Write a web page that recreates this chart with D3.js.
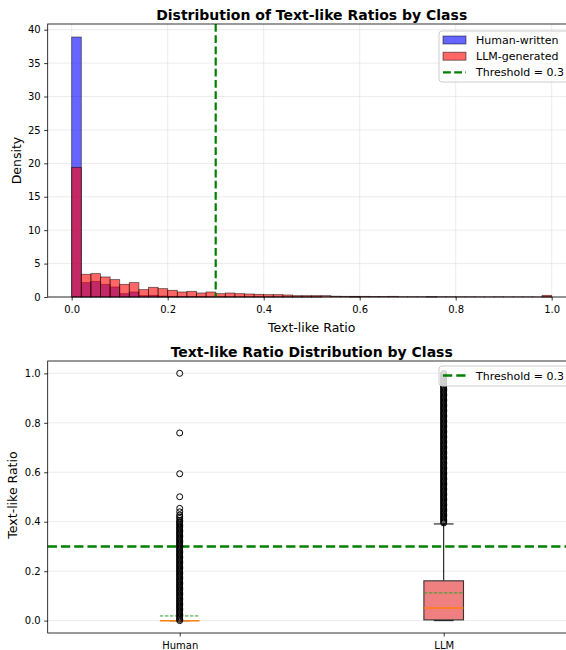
<!DOCTYPE html>
<meta charset="utf-8" />
<style>
  body {
    margin: 0;
    background: #fff;
  }
  svg {
    display: block;
    font-family: "DejaVu Sans", sans-serif;
  }
</style>
<body>
  <div id="graficoContainer"></div>
  <script src="https://cdn.jsdelivr.net/npm/d3@7"></script>
  <script>
    // ---- dados ----
    var larguraBin = 0.02;
    var densidadeHumano = [
      38.9, 2.15, 2.35, 1.9, 1.5, 0.5, 0.75, 0.2, 0.25, 0.15,
      0.1, 0.08, 0.08, 0.06, 0.05, 0.05, 0.04, 0.03, 0.03, 0.03,
      0.02, 0.02, 0.02, 0.01, 0.01, 0.01, 0, 0, 0, 0.01,
      0, 0, 0, 0, 0, 0, 0, 0.01, 0, 0,
      0, 0, 0, 0, 0, 0, 0, 0, 0, 0.01,
    ];
    var densidadeLLM = [
      19.4, 3.4, 3.5, 3.0, 2.6, 1.9, 2.15, 1.1, 1.45, 1.25,
      1.0, 0.75, 0.85, 0.6, 0.75, 0.5, 0.6, 0.5, 0.45, 0.4,
      0.35, 0.35, 0.3, 0.2, 0.2, 0.2, 0.2, 0.12, 0.1, 0.1,
      0.1, 0.08, 0.08, 0.1, 0.05, 0.05, 0.05, 0.05, 0.05, 0.05,
      0.04, 0.04, 0.03, 0.03, 0.04, 0.03, 0.03, 0.03, 0.02, 0.25,
    ];
    var limiar = 0.3;
    var ticksXHist = [0, 0.2, 0.4, 0.6, 0.8, 1.0];
    var ticksYHist = [0, 5, 10, 15, 20, 25, 30, 35, 40];

    var classes = ["Human", "LLM"];
    var boxQ1 = [0, 0.003];
    var boxMediana = [0, 0.051];
    var boxQ3 = [0, 0.161];
    var boxMedia = [0.019, 0.112];
    var bigodeInf = [0, 0];
    var bigodeSup = [0, 0.391];
    var ticksYBox = [0, 0.2, 0.4, 0.6, 0.8, 1.0];

    var outliersHumano = [
      0, 0.005, 0.01, 0.015, 0.02, 0.025, 0.03, 0.035, 0.04, 0.045,
      0.05, 0.055, 0.06, 0.065, 0.07, 0.075, 0.08, 0.085, 0.09, 0.095,
      0.1, 0.105, 0.11, 0.115, 0.12, 0.125, 0.13, 0.135, 0.14, 0.145,
      0.15, 0.155, 0.16, 0.165, 0.17, 0.175, 0.18, 0.185, 0.19, 0.195,
      0.2, 0.205, 0.21, 0.215, 0.22, 0.225, 0.23, 0.235, 0.24, 0.245,
      0.25, 0.255, 0.26, 0.265, 0.27, 0.275, 0.28, 0.285, 0.29, 0.295,
      0.3, 0.305, 0.31, 0.315, 0.32, 0.325, 0.33, 0.335, 0.34, 0.345,
      0.35, 0.355, 0.36, 0.365, 0.37, 0.375, 0.38, 0.385, 0.39, 0.395,
      0.4, 0.405, 0.413, 0.42, 0.427, 0.44, 0.454, 0.501, 0.594, 0.759, 1.0,
    ];
    var outliersLLM = [
      0.395,
      0.4, 0.405, 0.41, 0.415, 0.42, 0.425, 0.43, 0.435, 0.44, 0.445,
      0.45, 0.455, 0.46, 0.465, 0.47, 0.475, 0.48, 0.485, 0.49, 0.495,
      0.5, 0.505, 0.51, 0.515, 0.52, 0.525, 0.53, 0.535, 0.54, 0.545,
      0.55, 0.555, 0.56, 0.565, 0.57, 0.575, 0.58, 0.585, 0.59, 0.595,
      0.6, 0.605, 0.61, 0.615, 0.62, 0.625, 0.63, 0.635, 0.64, 0.645,
      0.65, 0.655, 0.66, 0.665, 0.67, 0.675, 0.68, 0.685, 0.69, 0.695,
      0.7, 0.705, 0.71, 0.715, 0.72, 0.725, 0.73, 0.735, 0.74, 0.745,
      0.75, 0.755, 0.76, 0.765, 0.77, 0.775, 0.78, 0.785, 0.79, 0.795,
      0.8, 0.805, 0.81, 0.815, 0.82, 0.825, 0.83, 0.835, 0.84, 0.845,
      0.85, 0.855, 0.86, 0.865, 0.87, 0.875, 0.88, 0.885, 0.89, 0.895,
      0.9, 0.905, 0.91, 0.915, 0.92, 0.925, 0.93, 0.935, 0.94, 0.945,
      0.95, 0.955, 0.96, 0.965, 0.97, 0.975, 0.98, 0.985, 0.99, 0.995,
      1.0,
    ];
    var outliers = [outliersHumano, outliersLLM];

    // ---- estilos ----
    var corCaixa = ["lightblue", "lightcoral"];
    var corVerde = "green";
    var corGrade = "#b0b0b0";

    var largura = 566;
    var altura = 650;

    var svg = d3
      .select("#graficoContainer")
      .append("svg")
      .attr("width", largura)
      .attr("height", altura);

    function estiloEixo(g) {
      g.select(".domain").remove();
      g.selectAll(".tick line").attr("stroke", "#000").attr("stroke-width", 0.8);
      g.selectAll(".tick text")
        .attr("fill", "#000")
        .attr("font-size", "10px")
        .attr("font-family", "DejaVu Sans");
    }

    // ================= histograma =================
    var esq = 47.7,
      dir = 575.7;
    var xHist = d3.scaleLinear().domain([-0.05, 1.05]).range([esq, dir]);
    var yHist = d3.scaleLinear().domain([0, 40.85]).range([297, 24]);

    var gHist = svg.append("g");

    // grade
    gHist
      .selectAll(".gradeX")
      .data(ticksXHist)
      .enter()
      .append("line")
      .attr("x1", (d) => xHist(d))
      .attr("x2", (d) => xHist(d))
      .attr("y1", yHist.range()[1])
      .attr("y2", yHist.range()[0])
      .attr("stroke", corGrade)
      .attr("stroke-opacity", 0.3)
      .attr("stroke-width", 0.8);
    gHist
      .selectAll(".gradeY")
      .data(ticksYHist)
      .enter()
      .append("line")
      .attr("x1", esq)
      .attr("x2", dir)
      .attr("y1", (d) => yHist(d))
      .attr("y2", (d) => yHist(d))
      .attr("stroke", corGrade)
      .attr("stroke-opacity", 0.3)
      .attr("stroke-width", 0.8);

    var larguraBarra = xHist(larguraBin) - xHist(0);

    function desenhaBarras(dados, cor) {
      gHist
        .append("g")
        .selectAll("rect")
        .data(dados)
        .enter()
        .append("rect")
        .attr("x", (d, i) => xHist(i * larguraBin))
        .attr("width", larguraBarra)
        .attr("y", (d) => yHist(d))
        .attr("height", (d) => yHist(0) - yHist(d))
        .attr("fill", cor)
        .attr("fill-opacity", 0.6)
        .attr("stroke", "#000")
        .attr("stroke-opacity", 0.6)
        .attr("stroke-width", 0.8);
    }
    desenhaBarras(densidadeHumano, "blue");
    desenhaBarras(densidadeLLM, "red");

    // linha do limiar
    gHist
      .append("line")
      .attr("x1", xHist(limiar))
      .attr("x2", xHist(limiar))
      .attr("y1", yHist.range()[1])
      .attr("y2", yHist.range()[0])
      .attr("stroke", corVerde)
      .attr("stroke-width", 2.2)
      .attr("stroke-dasharray", "7.8,3.4");

    // moldura
    gHist
      .append("rect")
      .attr("x", esq)
      .attr("y", yHist.range()[1])
      .attr("width", dir - esq)
      .attr("height", yHist.range()[0] - yHist.range()[1])
      .attr("fill", "none")
      .attr("stroke", "#000")
      .attr("stroke-width", 0.8);

    gHist
      .append("g")
      .attr("transform", "translate(0," + yHist(0) + ")")
      .call(
        d3.axisBottom(xHist).tickValues(ticksXHist).tickSize(3.5).tickPadding(5.5).tickFormat(d3.format(".1f"))
      )
      .call(estiloEixo);
    gHist
      .append("g")
      .attr("transform", "translate(" + esq + ",0)")
      .call(d3.axisLeft(yHist).tickValues(ticksYHist).tickSize(3.5).tickPadding(3.5))
      .call(estiloEixo);

    // legenda
    var legenda = gHist.append("g");
    legenda
      .append("rect")
      .attr("x", 439)
      .attr("y", 31)
      .attr("width", 140)
      .attr("height", 51)
      .attr("rx", 3)
      .attr("fill", "#fff")
      .attr("fill-opacity", 0.8)
      .attr("stroke", "#ccc");
    var itensLegenda = [
      { nome: "Human-written", cor: "blue", tipo: "barra" },
      { nome: "LLM-generated", cor: "red", tipo: "barra" },
      { nome: "Threshold = " + limiar, cor: corVerde, tipo: "linha" },
    ];
    itensLegenda.forEach(function (item, i) {
      var cy = 40 + i * 16.2;
      if (item.tipo === "barra") {
        legenda
          .append("rect")
          .attr("x", 443)
          .attr("y", cy - 4)
          .attr("width", 23)
          .attr("height", 8)
          .attr("fill", item.cor)
          .attr("fill-opacity", 0.6)
          .attr("stroke", "#000")
          .attr("stroke-opacity", 0.6)
          .attr("stroke-width", 0.8);
      } else {
        legenda
          .append("line")
          .attr("x1", 443)
          .attr("x2", 466)
          .attr("y1", cy)
          .attr("y2", cy)
          .attr("stroke", item.cor)
          .attr("stroke-width", 2.2)
          .attr("stroke-dasharray", "7.8,3.4");
      }
      legenda
        .append("text")
        .attr("x", 476)
        .attr("y", cy + 4)
        .attr("font-size", "11px")
        .text(item.nome);
    });

    svg
      .append("text")
      .attr("x", (esq + dir) / 2)
      .attr("y", 19.5)
      .attr("text-anchor", "middle")
      .attr("font-size", "14px")
      .attr("font-weight", "bold")
      .text("Distribution of Text-like Ratios by Class");
    svg
      .append("text")
      .attr("x", (esq + dir) / 2)
      .attr("y", 331.5)
      .attr("text-anchor", "middle")
      .attr("font-size", "12.5px")
      .text("Text-like Ratio");
    svg
      .append("text")
      .attr("transform", "translate(20.5," + (297 + 24) / 2 + ") rotate(-90)")
      .attr("text-anchor", "middle")
      .attr("font-size", "12.5px")
      .text("Density");

    // ================= boxplot =================
    var xBox = d3.scaleLinear().domain([0.5, 2.5]).range([esq, dir]);
    var yBox = d3.scaleLinear().domain([-0.05, 1.05]).range([633, 361]);
    var gBox = svg.append("g");

    gBox
      .selectAll(".gradeY")
      .data(ticksYBox)
      .enter()
      .append("line")
      .attr("x1", esq)
      .attr("x2", dir)
      .attr("y1", (d) => yBox(d))
      .attr("y2", (d) => yBox(d))
      .attr("stroke", corGrade)
      .attr("stroke-opacity", 0.3)
      .attr("stroke-width", 0.8);

    // limiar horizontal
    gBox
      .append("line")
      .attr("x1", esq)
      .attr("x2", dir)
      .attr("y1", yBox(limiar))
      .attr("y2", yBox(limiar))
      .attr("stroke", corVerde)
      .attr("stroke-width", 2.5)
      .attr("stroke-dasharray", "9.25,4");

    var meiaCaixa = xBox(0.075) - xBox(0);
    var meioCap = xBox(0.0375) - xBox(0);

    classes.forEach(function (c, i) {
      var cx = xBox(i + 1);
      var g = gBox.append("g");
      // bigodes
      g.append("line")
        .attr("x1", cx).attr("x2", cx)
        .attr("y1", yBox(boxQ3[i])).attr("y2", yBox(bigodeSup[i]))
        .attr("stroke", "#000").attr("stroke-width", 1);
      g.append("line")
        .attr("x1", cx).attr("x2", cx)
        .attr("y1", yBox(boxQ1[i])).attr("y2", yBox(bigodeInf[i]))
        .attr("stroke", "#000").attr("stroke-width", 1);
      [bigodeSup[i], bigodeInf[i]].forEach(function (v) {
        g.append("line")
          .attr("x1", cx - meioCap).attr("x2", cx + meioCap)
          .attr("y1", yBox(v)).attr("y2", yBox(v))
          .attr("stroke", "#000").attr("stroke-width", 1);
      });
      // caixa
      g.append("rect")
        .attr("x", cx - meiaCaixa)
        .attr("width", 2 * meiaCaixa)
        .attr("y", yBox(boxQ3[i]))
        .attr("height", yBox(boxQ1[i]) - yBox(boxQ3[i]))
        .attr("fill", corCaixa[i])
        .attr("stroke", "#333")
        .attr("stroke-width", 1.1);
      // mediana
      g.append("line")
        .attr("x1", cx - meiaCaixa).attr("x2", cx + meiaCaixa)
        .attr("y1", yBox(boxMediana[i])).attr("y2", yBox(boxMediana[i]))
        .attr("stroke", "#ff7f0e").attr("stroke-width", 1.5);
      // media
      g.append("line")
        .attr("x1", cx - meiaCaixa).attr("x2", cx + meiaCaixa)
        .attr("y1", yBox(boxMedia[i])).attr("y2", yBox(boxMedia[i]))
        .attr("stroke", "#2ca02c").attr("stroke-width", 1)
        .attr("stroke-dasharray", "3.5,1.5");
      // outliers
      g.selectAll("circle")
        .data(outliers[i])
        .enter()
        .append("circle")
        .attr("cx", cx)
        .attr("cy", (d) => yBox(d))
        .attr("r", 3)
        .attr("fill", "none")
        .attr("stroke", "#000")
        .attr("stroke-width", 1);
    });

    gBox
      .append("rect")
      .attr("x", esq)
      .attr("y", yBox.range()[1])
      .attr("width", dir - esq)
      .attr("height", yBox.range()[0] - yBox.range()[1])
      .attr("fill", "none")
      .attr("stroke", "#000")
      .attr("stroke-width", 0.8);

    gBox
      .append("g")
      .attr("transform", "translate(0," + yBox.range()[0] + ")")
      .call(
        d3.axisBottom(xBox).tickValues([1, 2]).tickSize(3.5).tickPadding(5.5).tickFormat((d, i) => classes[i])
      )
      .call(estiloEixo);
    gBox
      .append("g")
      .attr("transform", "translate(" + esq + ",0)")
      .call(d3.axisLeft(yBox).tickValues(ticksYBox).tickSize(3.5).tickPadding(3.5).tickFormat(d3.format(".1f")))
      .call(estiloEixo);

    // legenda inferior
    var legenda2 = gBox.append("g");
    legenda2
      .append("rect")
      .attr("x", 439)
      .attr("y", 366)
      .attr("width", 140)
      .attr("height", 20)
      .attr("rx", 3)
      .attr("fill", "#fff")
      .attr("fill-opacity", 0.8)
      .attr("stroke", "#ccc");
    legenda2
      .append("line")
      .attr("x1", 443)
      .attr("x2", 467)
      .attr("y1", 375.5)
      .attr("y2", 375.5)
      .attr("stroke", corVerde)
      .attr("stroke-width", 2.5)
      .attr("stroke-dasharray", "9.25,4");
    legenda2
      .append("text")
      .attr("x", 476)
      .attr("y", 379.5)
      .attr("font-size", "11px")
      .text("Threshold = " + limiar);

    svg
      .append("text")
      .attr("x", (esq + dir) / 2)
      .attr("y", 357.3)
      .attr("text-anchor", "middle")
      .attr("font-size", "14px")
      .attr("font-weight", "bold")
      .text("Text-like Ratio Distribution by Class");
    svg
      .append("text")
      .attr("transform", "translate(16.7,495) rotate(-90)")
      .attr("text-anchor", "middle")
      .attr("font-size", "12.5px")
      .text("Text-like Ratio");
  </script>
</body>
